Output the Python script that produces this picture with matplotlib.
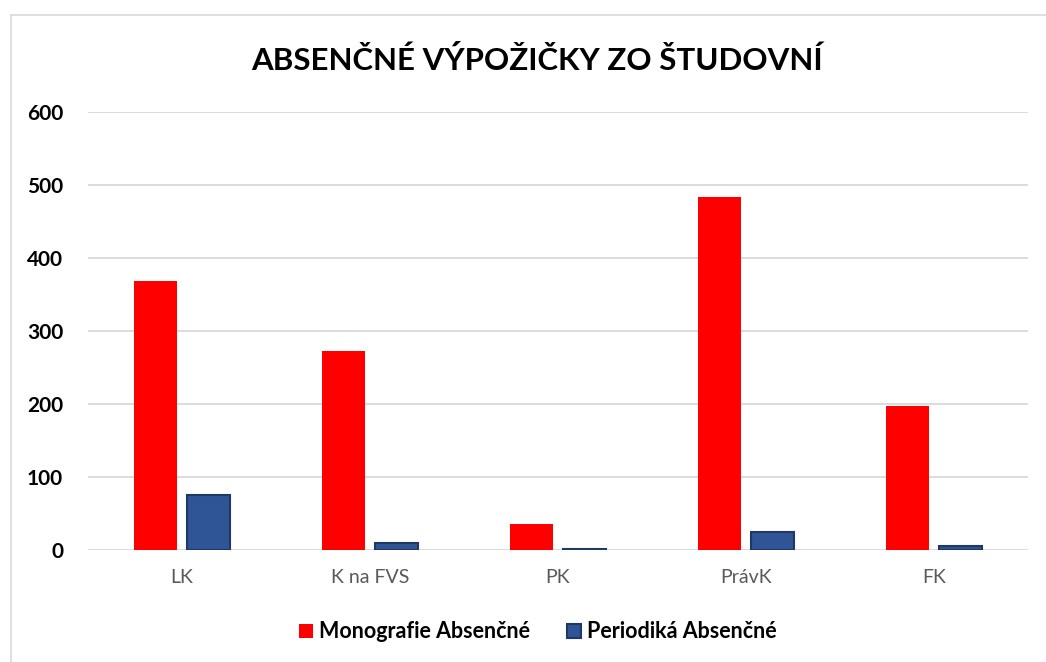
import numpy as np
import matplotlib
matplotlib.use('Agg')
import matplotlib.pyplot as plt
from matplotlib.lines import Line2D

# Data
categories = ['LK', 'K na FVS', 'PK', 'PrávK', 'FK']
monografie = [368, 273, 35, 483, 197]
periodika = [75, 10, 2, 25, 5]
series_names = ['Monografie Absenčné', 'Periodiká Absenčné']
yticks = [0, 100, 200, 300, 400, 500, 600]

plt.rcParams['font.family'] = ['Lato', 'DejaVu Sans']

fig = plt.figure(figsize=(10.46, 6.62), dpi=100)
ax = fig.add_axes([88 / 1046, 112 / 662, 940 / 1046, 438.3 / 662])

x = np.arange(len(categories))
width = 0.229
offset = 0.143
ax.bar(x - offset, monografie, width, color='#ff0000', label=series_names[0], zorder=3)
ax.bar(x + offset, periodika, width, color='#2f5597', edgecolor='#1f3864',
       linewidth=1.5, label=series_names[1], zorder=3)

ax.set_xlim(-0.5, len(categories) - 0.5)
ax.set_ylim(0, 600)
ax.set_yticks(yticks)
ax.set_yticklabels([str(v) for v in yticks], fontsize=15, fontweight='bold')
ax.set_xticks(x)
ax.set_xticklabels(categories, fontsize=14, color='#595959')
ax.tick_params(axis='both', length=0)
ax.tick_params(axis='y', pad=18)
ax.tick_params(axis='x', pad=14)
ax.grid(axis='y', color='#d9d9d9', linewidth=1.3, zorder=0)
for s in ax.spines.values():
    s.set_visible(False)

fig.text(537 / 1046, 1 - 60 / 662, 'ABSENČNÉ VÝPOŽIČKY ZO ŠTUDOVNÍ',
         ha='center', va='center', fontsize=22.5, fontweight='bold')

ax.legend(loc='center', bbox_to_anchor=(538 / 1046, 1 - 632 / 662),
          bbox_transform=fig.transFigure, ncol=2, frameon=False,
          prop={'size': 15.5, 'weight': 'bold'}, handlelength=0.65, handleheight=0.65,
          handletextpad=0.3, columnspacing=1.7)

# light frame lines (top and left) of the chart area
fig.add_artist(Line2D([11 / 1046, 1], [1 - 15 / 662, 1 - 15 / 662],
                      transform=fig.transFigure, color='#d9d9d9', linewidth=1.2))
fig.add_artist(Line2D([11 / 1046, 11 / 1046], [0, 1 - 15 / 662],
                      transform=fig.transFigure, color='#d9d9d9', linewidth=1.2))

fig.savefig('out.png', dpi=100)
